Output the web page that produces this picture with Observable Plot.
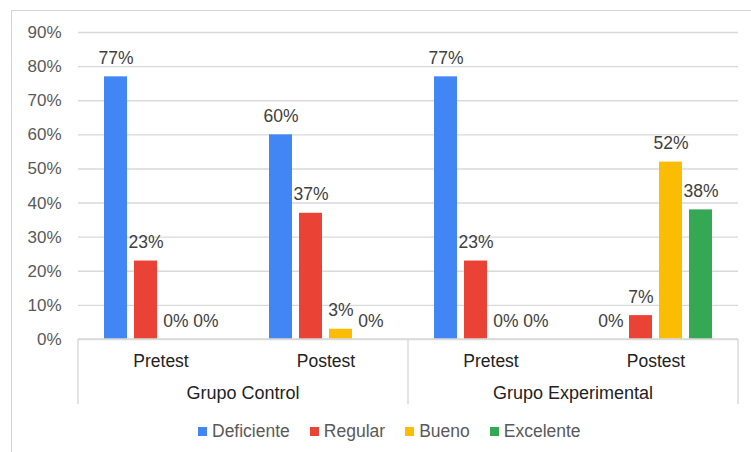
<!DOCTYPE html>
<html>
<head>
<meta charset="utf-8">
<script src="https://cdn.jsdelivr.net/npm/d3@7"></script>
<script src="https://cdn.jsdelivr.net/npm/@observablehq/plot@0.6"></script>
<style>
  body { margin: 0; background: #fff; font-family: "Liberation Sans", Arial, sans-serif; }
  #wrap { position: relative; width: 751px; height: 452px; overflow: hidden; background: #fff; }
  #border { position: absolute; left: 11px; top: 10px; width: 770px; height: 470px; border: 1px solid #d4d4d4; box-sizing: border-box; }
  #chart { position: absolute; left: 0; top: 0; }
  #legend { position: absolute; left: 198px; top: 420px; height: 22px; display: flex; align-items: center; font-size: 17.5px; color: #595959; white-space: nowrap; }
  .item { display: flex; align-items: center; margin-right: 20px; }
  .sw { width: 9px; height: 9px; margin-right: 5px; }
</style>
</head>
<body>
<div id="wrap">
  <div id="border"></div>
  <div id="chart"></div>
  <div id="legend"></div>
</div>
<script>
const grupos = ["Grupo Control", "Grupo Experimental"];
const fases = ["Pretest", "Postest"];
const categorias = ["Deficiente", "Regular", "Bueno", "Excelente"];
const colores = ["#4285F4", "#EA4335", "#FBBC04", "#34A853"];
// values per (grupo, fase): Control-Pretest, Control-Postest, Experimental-Pretest, Experimental-Postest
const deficiente = [77, 60, 77, 0];
const regular = [23, 37, 23, 7];
const bueno = [0, 3, 0, 52];
const excelente = [0, 0, 0, 38];
const yTicks = [0, 10, 20, 30, 40, 50, 60, 70, 80, 90];

const series = [deficiente, regular, bueno, excelente];
const keys = [];
grupos.forEach(g => fases.forEach(f => keys.push(g + "|" + f)));
const data = [];
keys.forEach((k, i) => categorias.forEach((c, j) => {
  data.push({ key: k, grupo: k.split("|")[0], fase: k.split("|")[1], categoria: c, valor: series[j][i] });
}));

const plot = Plot.plot({
  width: 751,
  height: 412,
  marginLeft: 77,
  marginRight: 12,
  marginTop: 32,
  marginBottom: 73,
  style: { fontFamily: "'Liberation Sans', Arial, sans-serif", fontSize: "17.5px", background: "transparent", overflow: "visible" },
  fx: { domain: keys, padding: 0, label: null, axis: null },
  x: { domain: categorias, paddingInner: 0.234, paddingOuter: 0.836, axis: null },
  y: { domain: [0, 90], label: null, axis: null },
  color: { domain: categorias, range: colores },
  marks: [
    Plot.gridY(yTicks, { stroke: "#d9d9d9", strokeOpacity: 1, strokeWidth: 1.4 }),
    Plot.axisY(yTicks, { tickFormat: d => d + "%", tickSize: 0, tickPadding: 17, label: null, color: "#595959", fontSize: 17 }),
    Plot.axisFx({ anchor: "bottom", tickFormat: k => k.split("|")[1], tickSize: 0, tickPadding: 15, label: null, color: "#222", fontSize: 17.5 }),
    Plot.barY(data, { fx: "key", x: "categoria", y: "valor", fill: "categoria" }),
    Plot.text(data, { fx: "key", x: "categoria", y: "valor", text: d => d.valor + "%", dy: -18.5, lineAnchor: "middle", fill: "#404040", fontSize: 17.5 })
  ]
});

document.getElementById("chart").appendChild(plot);

// category axis separators and group labels, placed from Plot's own scales
const svgEl = plot.tagName.toLowerCase() === "svg" ? plot : plot.querySelector("svg");
const svg = d3.select(svgEl);
const fx = plot.scale("fx");
const ys = plot.scale("y");
const y0 = ys.apply(0);
const bw = fx.bandwidth;
const g = svg.append("g");
g.append("line")
  .attr("x1", fx.apply(keys[0])).attr("x2", fx.apply(keys[3]) + bw)
  .attr("y1", y0).attr("y2", y0)
  .attr("stroke", "#d9d9d9").attr("stroke-width", 1.4);
const edges = [fx.apply(keys[0]), fx.apply(keys[2]), fx.apply(keys[3]) + bw];
edges.forEach(x => {
  g.append("line").attr("x1", x).attr("x2", x).attr("y1", y0).attr("y2", y0 + 65)
    .attr("stroke", "#d9d9d9").attr("stroke-width", 1.4);
});
grupos.forEach((gr, i) => {
  g.append("text")
    .attr("x", fx.apply(keys[i * 2 + 1]))
    .attr("y", y0 + 60)
    .attr("text-anchor", "middle")
    .attr("fill", "#222")
    .attr("font-size", 18)
    .attr("font-family", "'Liberation Sans', Arial, sans-serif")
    .text(gr);
});

// legend
const legend = document.getElementById("legend");
categorias.forEach((c, i) => {
  const item = document.createElement("div");
  item.className = "item";
  const sw = document.createElement("div");
  sw.className = "sw";
  sw.style.background = colores[i];
  const lab = document.createElement("span");
  lab.textContent = c;
  item.appendChild(sw);
  item.appendChild(lab);
  legend.appendChild(item);
});
</script>
</body>
</html>
